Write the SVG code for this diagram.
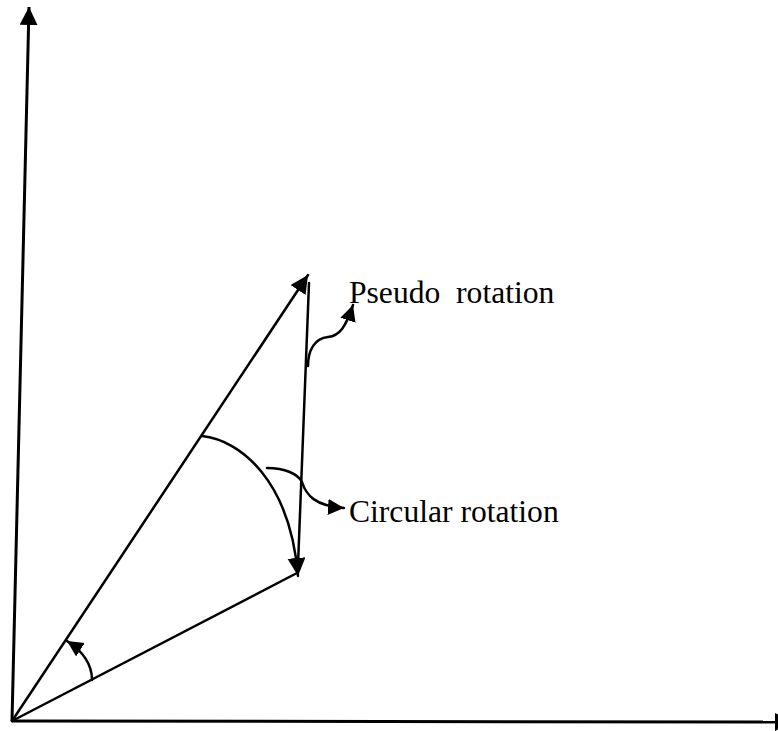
<svg xmlns="http://www.w3.org/2000/svg" width="778" height="731" viewBox="0 0 778 731">
<style>
.ln{stroke:#000;fill:none;stroke-width:2.5;stroke-linecap:round}
.ax{stroke:#000;fill:none;stroke-width:3}
.lbl{font-family:"Liberation Serif","Times New Roman",serif;font-size:31.6px;fill:#000;white-space:pre}
</style>
<defs>
<marker id="ah" markerUnits="userSpaceOnUse" markerWidth="20" markerHeight="20" refX="18" refY="9" orient="auto" viewBox="0 0 20 20">
<path d="M0,0 L18,9 L0,18 z" fill="#000"/>
</marker>
<marker id="ahs" markerUnits="userSpaceOnUse" markerWidth="18" markerHeight="18" refX="16" refY="8" orient="auto" viewBox="0 0 18 18">
<path d="M0,0 L16,8 L0,16 z" fill="#000"/>
</marker>
</defs>
<rect width="778" height="731" fill="#fff"/>
<g id="connectors">
<line id="y-axis" class="ax" x1="12" y1="721" x2="29" y2="7" marker-end="url(#ah)"/>
<line id="x-axis" class="ax" x1="12" y1="721" x2="793" y2="722" marker-end="url(#ah)"/>
<line id="long-vector" class="ln" x1="12" y1="721" x2="308" y2="275" marker-end="url(#ah)"/>
<line id="short-vector" class="ln" x1="12" y1="721" x2="297" y2="573"/>
<line id="pseudo-line" class="ln" x1="309" y1="283" x2="298" y2="565"/>
<path id="circular-arc" class="ln" d="M202,436 C240,440 290,480 298,576" marker-end="url(#ah)"/>
<path id="angle-arc" class="ln" d="M92,680 C92,664 84,652 67,641" marker-end="url(#ahs)"/>
<path id="pseudo-pointer" class="ln" d="M308,366 C308,350 315,338 328,337 C340,336 346,326 353,305" marker-end="url(#ahs)"/>
<path id="circular-pointer" class="ln" d="M267,468 C285,468 298,474 302,482 C306,495 315,506 344,508" marker-end="url(#ahs)"/>
</g>
<g id="pseudo-label"><text class="lbl" x="349" y="303">Pseudo  rotation</text></g>
<g id="circular-label"><text class="lbl" x="349" y="522">Circular rotation</text></g>
</svg>
